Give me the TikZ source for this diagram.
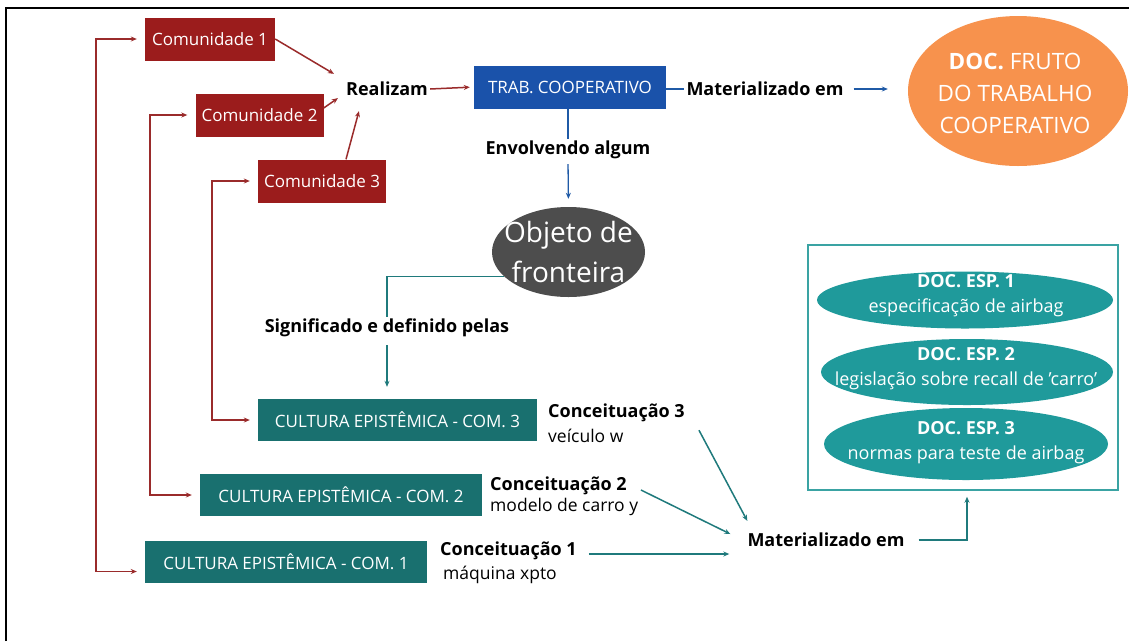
\documentclass[tikz,border=0pt]{standalone}
\usepackage{fontspec}
\setmainfont{Open Sans}
\usetikzlibrary{arrows.meta,shapes.geometric,calc}
\definecolor{cred}{HTML}{9B1C1C}
\definecolor{credl}{HTML}{9A2B2B}
\definecolor{cblue}{HTML}{1A52AA}
\definecolor{cbluel}{HTML}{1F5AA6}
\definecolor{corange}{HTML}{F7924D}
\definecolor{cgray}{HTML}{4D4D4D}
\definecolor{cteal}{HTML}{19706F}
\definecolor{ctealE}{HTML}{1F9A9B}
\definecolor{ctealL}{HTML}{1F7A7C}
\definecolor{ctealF}{HTML}{3AA3A3}
\tikzset{
  fs/.style={font=\fontsize{#1}{#1}\selectfont},
  redbox/.style={fill=cred,text=white,minimum height=43pt,inner sep=0pt,fs=17},
  bluebox/.style={fill=cblue,text=white,minimum height=43pt,inner sep=0pt,fs=17},
  cebox/.style={fill=cteal,text=white,minimum height=42pt,inner sep=0pt,fs=17},
  lbl/.style={inner sep=2pt,font=\fontsize{18}{20}\selectfont\bfseries},
  sub/.style={inner sep=2pt,anchor=west,fs=17.5},
  esptext/.style={text=white,align=center,font=\fontsize{18}{25}\selectfont},
  tip/.style={-{Stealth[length=6pt,width=5pt]}},
  rline/.style={draw=credl,line width=1.5pt},
  bline/.style={draw=cbluel,line width=1.3pt},
  tline/.style={draw=ctealL,line width=1.5pt},
}
\begin{document}
\begin{tikzpicture}[x=1pt,y=-1pt]
\useasboundingbox (0,0) rectangle (1129,641);
\fill[white] (0,0) rectangle (1129,641);
% frame
\draw[line width=2.5pt] (6,641) -- (6,8) -- (1129,8);

% communities
\node[redbox,minimum width=130pt] (c1) at (210,39) {Comunidade 1};
\node[redbox,minimum width=128pt] (c2) at (259.5,115) {Comunidade 2};
\node[redbox,minimum width=128pt] (c3) at (322,181) {Comunidade 3};
\node[lbl] (real) at (387,89) {Realizam};
\node[bluebox,minimum width=192pt] (trab) at (570,87) {TRAB. COOPERATIVO};
\node[lbl] (mat1) at (765,89) {Materializado em};
\node[ellipse,fill=corange,minimum width=220pt,minimum height=150pt,inner sep=0pt] (doc) at (1018,91) {};
\node[text=white,align=center,font=\fontsize{22.5}{32}\selectfont] (doct) at (1015,93) {\textbf{DOC.} FRUTO\\DO TRABALHO\\COOPERATIVO};

\node[lbl] (env) at (568,150) {Envolvendo algum};
\node[ellipse,fill=cgray,minimum width=153pt,minimum height=90pt,inner sep=0pt] (obj) at (568.5,252) {};
\node[text=white,align=center,font=\fontsize{28}{40}\selectfont] (objt) at (obj.center) {Objeto de\\fronteira};
\node[lbl] (sig) at (387,328) {Significado e definido pelas};

% epistemic cultures
\node[cebox,minimum width=279pt] (ce3) at (397.5,420) {CULTURA EPISTÊMICA - COM. 3};
\node[cebox,minimum width=282pt] (ce2) at (341,495) {CULTURA EPISTÊMICA - COM. 2};
\node[cebox,minimum width=282pt] (ce1) at (286,561.5) {CULTURA EPISTÊMICA - COM. 1};

\node[lbl,anchor=west] (k3) at (546,413) {Conceituação 3};
\node[sub] (k3b) at (546,436) {veículo w};
\node[lbl,anchor=west] (k2) at (488,486) {Conceituação 2};
\node[sub] (k2b) at (488,507) {modelo de carro y};
\node[lbl,anchor=west] (k1) at (438,551) {Conceituação 1};
\node[sub] (k1b) at (441,575) {máquina xpto};

\node[lbl] (mat2) at (826,540) {Materializado em};

% specific documents
\node[draw=ctealF,line width=1.5pt,minimum width=310pt,minimum height=245pt,inner sep=0pt] (espbox) at (963,367.5) {};
\node[ellipse,fill=ctealE,minimum width=296pt,minimum height=57pt,inner sep=0pt] (e1) at (965,300) {};
\node[ellipse,fill=ctealE,minimum width=292pt,minimum height=66pt,inner sep=0pt] (e2) at (967,372) {};
\node[ellipse,fill=ctealE,minimum width=284pt,minimum height=72pt,inner sep=0pt] (e3) at (966,444) {};
\node[esptext] (e1t) at (966,296) {\textbf{DOC. ESP. 1}\\especificação de airbag};
\node[esptext] (e2t) at (966,369) {\textbf{DOC. ESP. 2}\\legislação sobre recall de 'carro'};
\node[esptext] (e3t) at (966,443) {\textbf{DOC. ESP. 3}\\normas para teste de airbag};

% red connectors
\draw[rline,{Stealth[length=6pt,width=5pt]}-{Stealth[length=6pt,width=5pt]},shorten <=8pt,shorten >=8pt]
  (c1.west) -| (96,300) |- ([yshift=-10pt]ce1.west);
\draw[rline,{Stealth[length=6pt,width=5pt]}-{Stealth[length=6pt,width=5pt]},shorten <=8pt,shorten >=8pt]
  (c2.west) -| (150,300) |- (ce2.west);
\draw[rline,{Stealth[length=6pt,width=5pt]}-{Stealth[length=6pt,width=5pt]},shorten <=8pt,shorten >=8pt]
  (c3.west) -| (212,300) |- (ce3.west);
\draw[rline,tip] (c1.east) -- ($(real.north west)+(-10,-6)$);
\draw[rline,tip] ([yshift=7pt]c2.east) -- ($(real.south west)+(-6,0)$);
\draw[rline,tip] ([xshift=24pt]c3.north) -- ($(real.south west)+(15,13)$);
\draw[rline,tip,shorten >=4pt] (real.east) -- (trab.west);

% blue connectors
\draw[bline] (trab.east |- mat1.west) -- (mat1.west);
\draw[bline,tip,shorten <=8pt,shorten >=20pt] (mat1.east) -- (doc.west |- mat1.east);
\draw[bline] (trab.south -| env.north) -- (env.north);
\draw[bline,tip,shorten <=3pt,shorten >=8pt] (env.south) -- (obj.north);

% teal connectors
\draw[tline] (obj.201) -| (sig.north);
\draw[tline,tip,shorten <=6pt,shorten >=12pt] (sig.south) -- (sig.south |- ce3.north);
\draw[tline,tip] ($(k3.south east)+(12,6)$) -- ($(mat2.north west)+(2,-10)$);
\draw[tline,tip] ($(k2.east)+(12,4)$) -- ($(mat2.west)+(-15,-6)$);
\draw[tline,tip] ($(k1.east)+(10,3)$) -- ($(mat2.west)+(-16,14)$);
\draw[tline,tip,shorten <=12pt,shorten >=6pt] (mat2.east) -| ([xshift=4pt]espbox.south);
\end{tikzpicture}
\end{document}
